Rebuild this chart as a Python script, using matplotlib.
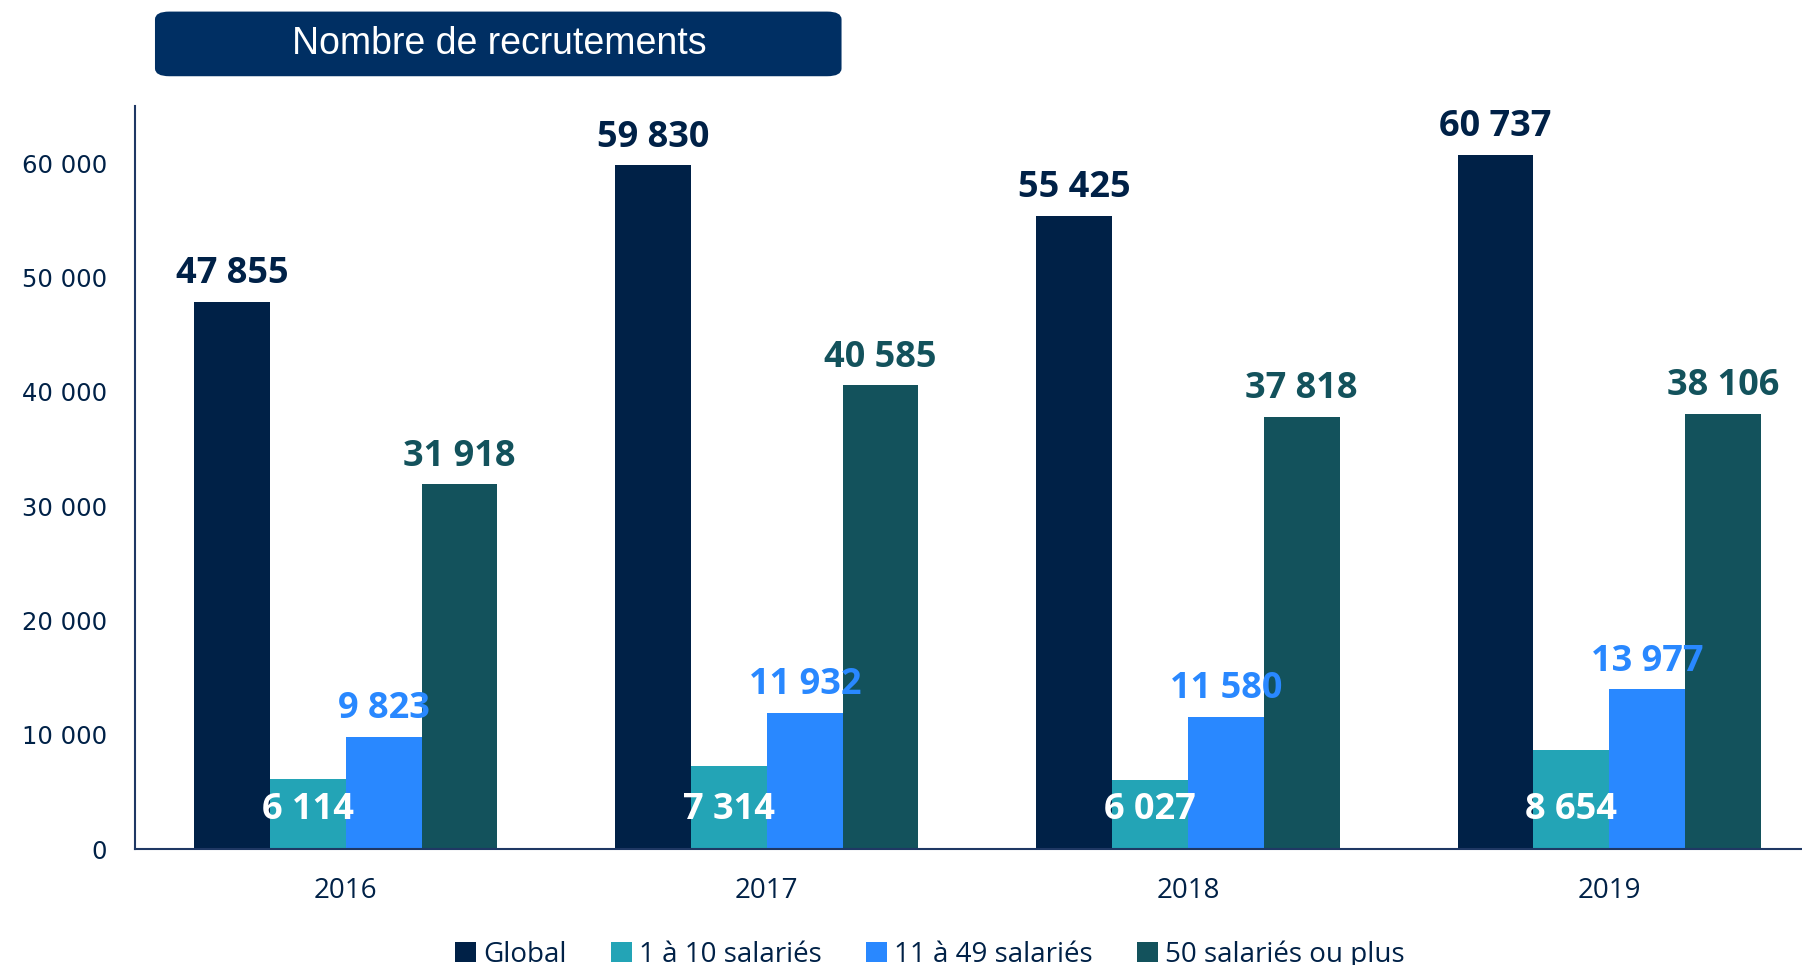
import numpy as np
import matplotlib.pyplot as plt
from matplotlib.patches import FancyBboxPatch

# Data
years = ['2016', '2017', '2018', '2019']
series = ['Global', '1 à 10 salariés', '11 à 49 salariés', '50 salariés ou plus']
global_vals = [47855, 59830, 55425, 60737]
small_vals = [6114, 7314, 6027, 8654]
medium_vals = [9823, 11932, 11580, 13977]
large_vals = [31918, 40585, 37818, 38106]

NAVY = '#002147'
TEAL = '#23A4B6'
BLUE = '#2988FF'
DARK_TEAL = '#13525C'
colors = [NAVY, TEAL, BLUE, DARK_TEAL]


def fmt(v):
    return f'{v:,}'.replace(',', ' ')


fig = plt.figure(figsize=(18.02, 9.65), dpi=100)
ax = fig.add_axes([0.075, 0.120, 0.925, 0.770])

x = np.arange(len(years))
w = 0.18
offsets = [-1.5 * w, -0.5 * w, 0.5 * w, 1.5 * w]
all_vals = [global_vals, small_vals, medium_vals, large_vals]

for vals, off, col, name in zip(all_vals, offsets, colors, series):
    ax.bar(x + off, vals, width=w, color=col, label=name, zorder=2)

lab_font = dict(family='Open Sans', fontweight='bold', fontsize=26)

# labels above bars: Global, 11-49, 50+
for idx, col in [(0, NAVY), (2, BLUE), (3, DARK_TEAL)]:
    for xi, v in zip(x + offsets[idx], all_vals[idx]):
        ax.annotate(fmt(v), (xi, v), xytext=(0, 7), textcoords='offset points',
                    ha='center', va='bottom', color=col, **lab_font)

# 1 a 10 labels inside the bars
for xi, v in zip(x + offsets[1], small_vals):
    ax.text(xi, 3400, fmt(v), ha='center', va='center', color='white', zorder=3, **lab_font)

ax.set_xlim(-0.5, 3.458)
ax.set_ylim(0, 65000)
ax.set_yticks(np.arange(0, 60001, 10000))
ax.set_yticklabels([fmt(t) for t in range(0, 60001, 10000)], family='DejaVu Sans',
                   fontsize=17.5, color=NAVY)
ax.set_xticks(x)
ax.set_xticklabels(years, family='Open Sans', fontsize=20, color=NAVY)
ax.tick_params(length=0, axis='y', pad=20)
ax.tick_params(length=0, axis='x', pad=20)

for s in ['top', 'right']:
    ax.spines[s].set_visible(False)
for s in ['left', 'bottom']:
    ax.spines[s].set_color('#1F3864')
    ax.spines[s].set_linewidth(1.5)

# title box
box = FancyBboxPatch((0.086, 0.921), 0.381, 0.067, boxstyle='round,pad=0,rounding_size=0.008',
                     transform=fig.transFigure, facecolor='#002F63', edgecolor='none')
fig.patches.append(box)
fig.text(0.277, 0.954, 'Nombre de recrutements', ha='center', va='center', color='white',
         family='Liberation Sans', fontsize=27)

fig.legend(loc='center', bbox_to_anchor=(0.516, 0.011), ncol=4, frameon=False,
           prop=dict(family='Open Sans', size=20), handlelength=0.75, handleheight=0.75,
           handletextpad=0.25, columnspacing=1.6, labelcolor=NAVY)

fig.savefig('out.png', dpi=100)
